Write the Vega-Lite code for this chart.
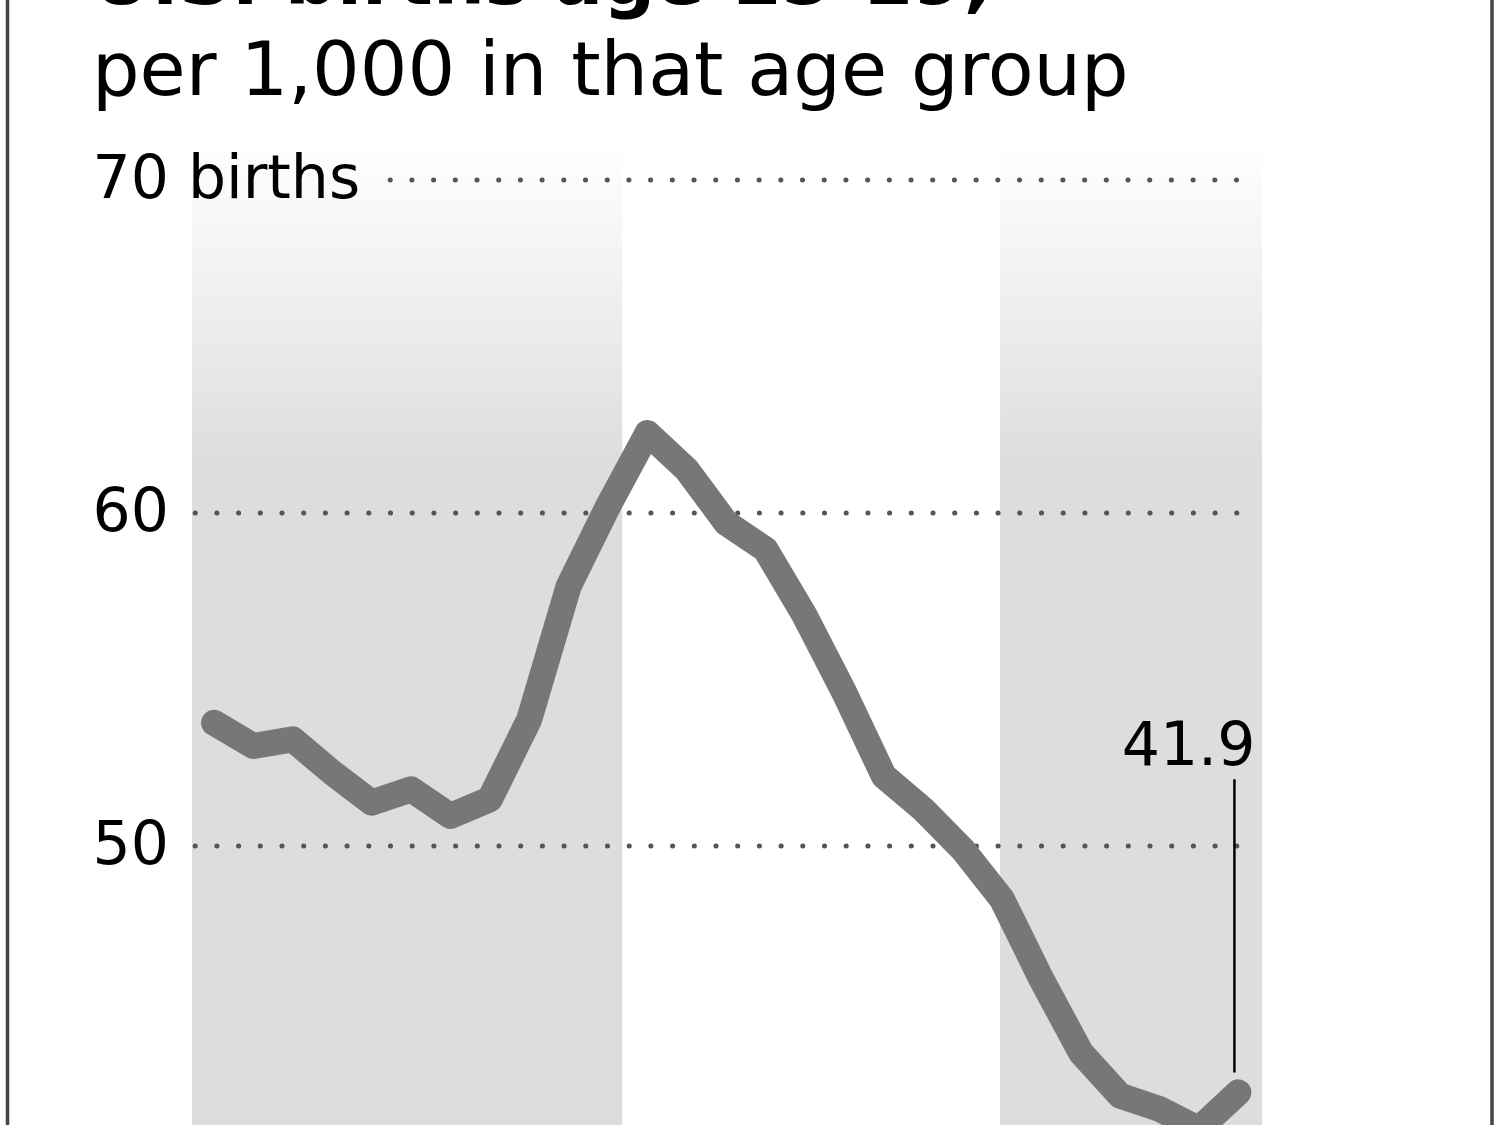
{
  "$schema": "https://vega.github.io/schema/vega-lite/v6.json",
  "autosize": {"type": "none"},
  "width": 1070,
  "height": 975,
  "padding": {"top": 150, "left": 192, "right": 238, "bottom": 0},
  "background": "white",
  "config": {"font": "DejaVu Sans", "view": {"stroke": null}},
  "title": {
    "text": "U.S. births age 15-19,",
    "subtitle": "per 1,000 in that age group",
    "anchor": "start",
    "frame": "group",
    "dx": -100,
    "font": "DejaVu Sans",
    "fontSize": 73,
    "fontWeight": "bold",
    "color": "black",
    "subtitleFont": "DejaVu Sans",
    "subtitleFontSize": 75,
    "subtitleColor": "black",
    "subtitlePadding": 17,
    "offset": -115
  },
  "datasets": {
    "rates": [
      {"year": 1980, "rate": 53.7},
      {"year": 1981, "rate": 53.0},
      {"year": 1982, "rate": 53.2},
      {"year": 1983, "rate": 52.2},
      {"year": 1984, "rate": 51.3},
      {"year": 1985, "rate": 51.7},
      {"year": 1986, "rate": 50.9},
      {"year": 1987, "rate": 51.4},
      {"year": 1988, "rate": 53.8},
      {"year": 1989, "rate": 57.8},
      {"year": 1990, "rate": 60.2},
      {"year": 1991, "rate": 62.4},
      {"year": 1992, "rate": 61.3},
      {"year": 1993, "rate": 59.7},
      {"year": 1994, "rate": 58.9},
      {"year": 1995, "rate": 56.9},
      {"year": 1996, "rate": 54.6},
      {"year": 1997, "rate": 52.1},
      {"year": 1998, "rate": 51.1},
      {"year": 1999, "rate": 49.9},
      {"year": 2000, "rate": 48.4},
      {"year": 2001, "rate": 46.0},
      {"year": 2002, "rate": 43.8},
      {"year": 2003, "rate": 42.5},
      {"year": 2004, "rate": 42.1},
      {"year": 2005, "rate": 41.5},
      {"year": 2006, "rate": 42.6}
    ],
    "bands": [
      {"start": 1979.44, "end": 1990.36},
      {"start": 1999.95, "end": 2006.6}
    ]
  },
  "layer": [
    {
      "data": {"name": "bands"},
      "mark": {
        "type": "rect",
        "fill": {
          "gradient": "linear",
          "x1": 0, "y1": 0, "x2": 0, "y2": 1,
          "stops": [
            {"offset": 0, "color": "#fefefe"},
            {"offset": 0.1, "color": "#f4f4f4"},
            {"offset": 0.22, "color": "#e8e8e8"},
            {"offset": 0.32, "color": "#dddddd"},
            {"offset": 1, "color": "#dddddd"}
          ]
        }
      },
      "encoding": {
        "x": {"field": "start", "type": "quantitative", "scale": {"domain": [1979.44, 2006.6], "nice": false, "zero": false}, "axis": null},
        "x2": {"field": "end"}
      }
    },
    {
      "data": {"values": [{"v": 60}, {"v": 50}]},
      "mark": {"type": "rule", "color": "#555555", "strokeWidth": 5, "strokeCap": "round", "strokeDash": [0.1, 21.6]},
      "encoding": {
        "y": {"field": "v", "type": "quantitative"},
        "x": {"datum": 1979.52},
        "x2": {"datum": 2006.5}
      }
    },
    {
      "data": {"values": [{"v": 70}]},
      "mark": {"type": "rule", "color": "#555555", "strokeWidth": 5, "strokeCap": "round", "strokeDash": [0.1, 21.6]},
      "encoding": {
        "y": {"field": "v", "type": "quantitative"},
        "x": {"datum": 1984.47},
        "x2": {"datum": 2006.35}
      }
    },
    {
      "data": {"name": "rates"},
      "mark": {"type": "line", "color": "#777777", "strokeWidth": 26, "strokeCap": "round", "strokeJoin": "round"},
      "encoding": {
        "x": {"field": "year", "type": "quantitative"},
        "y": {
          "field": "rate",
          "type": "quantitative",
          "scale": {"domain": [41.62, 70.9], "nice": false, "zero": false},
          "axis": {
            "values": [50, 60, 70],
            "labelExpr": "datum.value == 70 ? '70 births' : datum.label",
            "labelAlign": "left",
            "labelBaseline": "middle",
            "labelPadding": 100,
            "labelLimit": 600,
            "ticks": false,
            "tickSize": 0,
            "domain": false,
            "grid": false,
            "zindex": 1,
            "labelFontSize": 60,
            "labelFont": "DejaVu Sans",
            "labelColor": "black",
            "labelFlush": false,
            "labelOverlap": false,
            "labelBound": false,
            "title": null
          }
        }
      }
    },
    {
      "data": {"values": [{"label": "41.9"}]},
      "mark": {"type": "rule", "color": "black", "strokeWidth": 2.5},
      "encoding": {
        "x": {"datum": 2005.9},
        "y": {"datum": 52.0},
        "y2": {"datum": 43.2}
      }
    },
    {
      "data": {"values": [{"label": "41.9"}]},
      "mark": {"type": "text", "align": "right", "baseline": "alphabetic", "dx": 17, "fontSize": 60, "font": "DejaVu Sans", "color": "black"},
      "encoding": {
        "x": {"datum": 2006},
        "y": {"datum": 52.43},
        "text": {"field": "label"}
      }
    },
    {
      "data": {"values": [{"side": "left", "pos": 1974.757}, {"side": "right", "pos": 2012.438}]},
      "mark": {"type": "rule", "color": "#444444", "strokeWidth": 3.5},
      "encoding": {
        "x": {"field": "pos", "type": "quantitative"},
        "y": {"datum": 75.5},
        "y2": {"datum": 40}
      }
    }
  ]
}
